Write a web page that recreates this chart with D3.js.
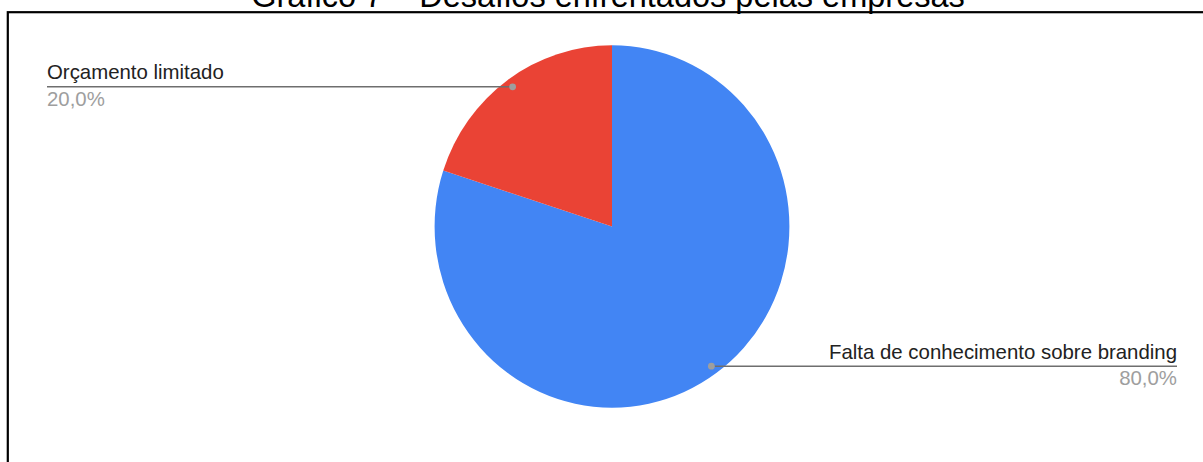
<!DOCTYPE html>
<html>
<head>
<meta charset="utf-8">
<script src="https://cdn.jsdelivr.net/npm/d3@7"></script>
<style>
  html, body { margin: 0; padding: 0; background: #fff; }
  svg { display: block; font-family: "Liberation Sans", Arial, sans-serif; }
</style>
</head>
<body>
<svg id="chart" width="1203" height="462"></svg>
<script>
// Chart data
const title = "Gráfico 7 – Desafios enfrentados pelas empresas";
const categories = ["Falta de conhecimento sobre branding", "Orçamento limitado"];
const values = [80, 20];
const colors = ["#4285f4", "#ea4335"];

const fmtPct = v => d3.format(".1f")(v).replace(".", ",") + "%";

const svg = d3.select("#chart");
const W = 1203, H = 462;

// Frame around the chart area (bottom and right edges fall outside the view)
svg.append("rect")
  .attr("x", 7.8).attr("y", 12.2)
  .attr("width", W + 20).attr("height", H + 20)
  .attr("fill", "none").attr("stroke", "#000").attr("stroke-width", 2.2);

// Title, mostly above the top edge
svg.append("text")
  .attr("x", 608).attr("y", 7)
  .attr("text-anchor", "middle")
  .attr("font-size", 32.5)
  .attr("fill", "#000")
  .text(title);

// Pie geometry
const cx = 612, cy = 226.5, R = 177.4, sy = 1.021;
const total = d3.sum(values);
const pie = d3.pie().sort(null).value(d => d)(values);
const arc = d3.arc().innerRadius(0).outerRadius(R);
const anchorArc = d3.arc().innerRadius(R * 0.953).outerRadius(R * 0.953);

const g = svg.append("g").attr("transform", `translate(${cx},${cy}) scale(1,${sy})`);
g.selectAll("path.slice")
  .data(pie)
  .join("path")
  .attr("class", "slice")
  .attr("d", arc)
  .attr("fill", (d, i) => colors[i]);

// Leader lines and labels
const labelLeft = 47, labelRight = 1177;
pie.forEach((d, i) => {
  const [ax, ay] = anchorArc.centroid(d);
  const px = cx + ax, py = cy + ay * sy;
  const onRight = px > cx;
  const endX = onRight ? labelRight : labelLeft;
  const anchor = onRight ? "end" : "start";

  svg.append("line")
    .attr("x1", px).attr("y1", py)
    .attr("x2", endX).attr("y2", py)
    .attr("stroke", "#6e6e6e").attr("stroke-width", 1.5);
  svg.append("circle")
    .attr("cx", px).attr("cy", py).attr("r", 3.4)
    .attr("fill", "#9e9e9e");

  svg.append("text")
    .attr("x", endX).attr("y", py - 7.5)
    .attr("text-anchor", anchor)
    .attr("font-size", 20.4)
    .attr("fill", "#222")
    .text(categories[i]);
  svg.append("text")
    .attr("x", endX).attr("y", py + 19)
    .attr("text-anchor", anchor)
    .attr("font-size", 20.4)
    .attr("fill", "#9e9e9e")
    .text(fmtPct(values[i] / total * 100));
});
</script>
</body>
</html>
